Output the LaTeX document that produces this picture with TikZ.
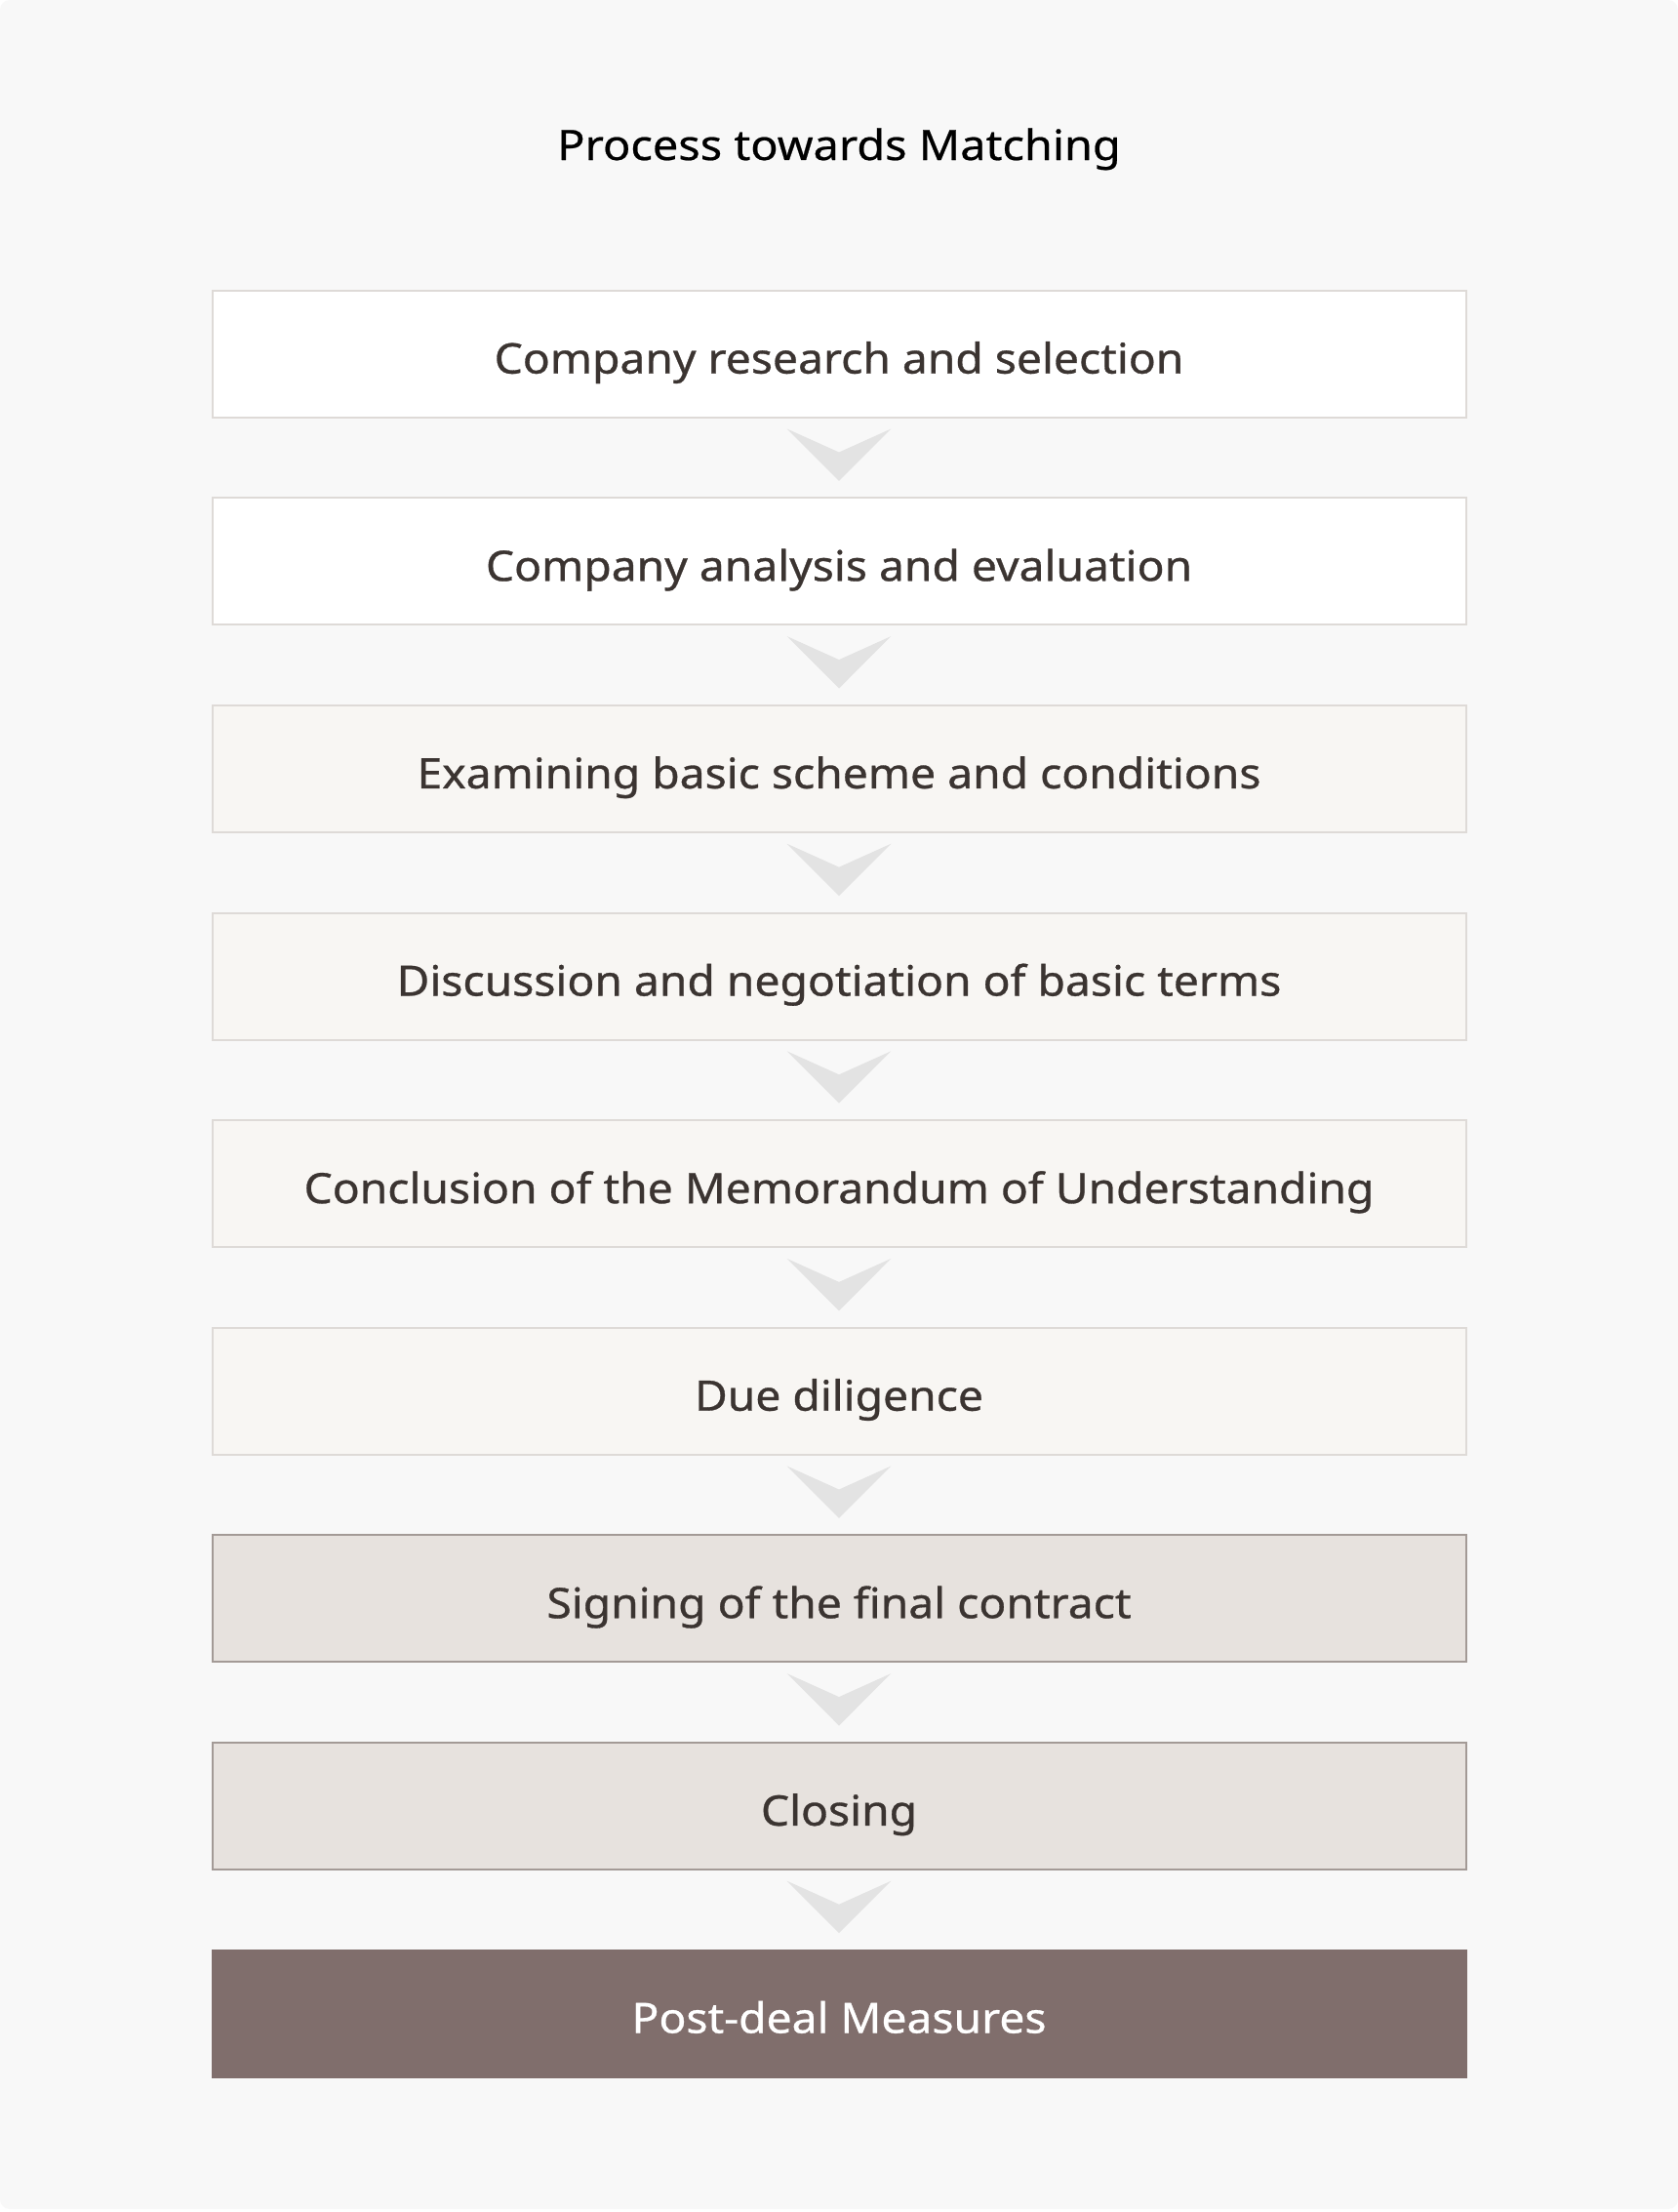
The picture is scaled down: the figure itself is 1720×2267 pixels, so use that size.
\documentclass[tikz,border=0pt]{standalone}
\usepackage{fontspec}
\setmainfont{Noto Sans}
\newfontfamily\stagefont{Noto Sans}[FakeBold=0.7, FakeStretch=1.075]
\newfontfamily\titlefont{Noto Sans}[FakeBold=0.5, FakeStretch=1.09]
\usetikzlibrary{positioning,calc}
\definecolor{pagebg}{HTML}{F8F8F8}
\definecolor{lineA}{HTML}{DEDAD7}
\definecolor{lineB}{HTML}{A39A96}
\definecolor{fillA}{HTML}{F8F6F3}
\definecolor{fillB}{HTML}{E7E2DE}
\definecolor{fillC}{HTML}{806E6C}
\definecolor{chevcol}{HTML}{E3E3E3}
\definecolor{ink}{HTML}{3B3431}
\tikzset{
	stage/.style={draw=lineA, line width=2pt, fill=white, minimum width=1285pt, minimum height=130pt,
		inner sep=0pt, text=ink, font=\stagefont\fontsize{43}{50}\selectfont, text height=40pt, text depth=0pt},
	stagelight/.style={stage, fill=fillA},
	stagemid/.style={stage, draw=lineB, fill=fillB},
	stagedark/.style={stage, draw=fillC, fill=fillC, text=white},
	chev/.pic={\fill[chevcol] (-53.3,29.5) -- (0,5.5) -- (53.3,29.5) -- (0,-23.9) -- cycle;}
}
\begin{document}
\begin{tikzpicture}[x=1pt, y=1pt, node distance=80.6pt]
	\useasboundingbox (0,0) rectangle (1720,-2267);
	\fill [white] (0,0) rectangle (1720,-2267);
	\fill [pagebg, rounded corners=10pt] (0,0) rectangle (1720,-2264);
	\node [anchor=base, font=\titlefont\fontsize{43}{50}\selectfont] (title) at (860,-164) {Process towards Matching};
	\node [stage] (b1) at (860,-362.7) {Company research and selection};
	\node [stage, below=of b1] (b2) {Company analysis and evaluation};
	\node [stagelight, below=of b2] (b3) {Examining basic scheme and conditions};
	\node [stagelight, below=of b3] (b4) {Discussion and negotiation of basic terms};
	\node [stagelight, below=of b4] (b5) {Conclusion of the Memorandum of Understanding};
	\node [stagelight, below=of b5] (b6) {Due diligence};
	\node [stagemid, below=of b6] (b7) {Signing of the final contract};
	\node [stagemid, below=of b7] (b8) {Closing};
	\node [stagedark, below=of b8] (b9) {Post-deal Measures};
	\path ($(b1.south)!.5!(b2.north)$) pic {chev};
	\path ($(b2.south)!.5!(b3.north)$) pic {chev};
	\path ($(b3.south)!.5!(b4.north)$) pic {chev};
	\path ($(b4.south)!.5!(b5.north)$) pic {chev};
	\path ($(b5.south)!.5!(b6.north)$) pic {chev};
	\path ($(b6.south)!.5!(b7.north)$) pic {chev};
	\path ($(b7.south)!.5!(b8.north)$) pic {chev};
	\path ($(b8.south)!.5!(b9.north)$) pic {chev};
\end{tikzpicture}
\end{document}
